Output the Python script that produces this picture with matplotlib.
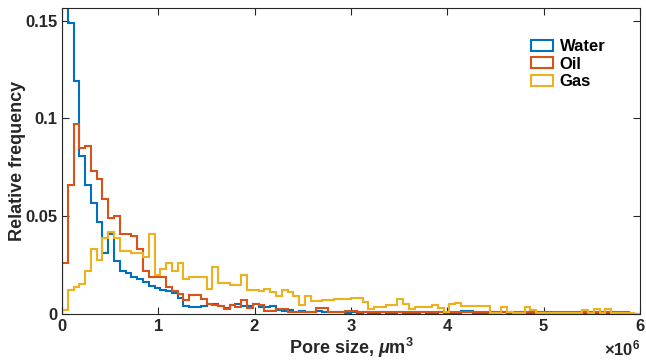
import numpy as np
import matplotlib.pyplot as plt
from matplotlib.ticker import ScalarFormatter, FixedLocator, FuncFormatter

plt.rcParams['font.family'] = 'Liberation Sans'
plt.rcParams['font.weight'] = 'bold'
plt.rcParams['mathtext.fontset'] = 'custom'
plt.rcParams['mathtext.rm'] = 'Liberation Sans:bold'
plt.rcParams['mathtext.it'] = 'Liberation Sans:italic'
plt.rcParams['mathtext.bf'] = 'Liberation Sans:bold'

# bins: 100 bins of 6e4 from 0 to 6e6
bin_edges = np.linspace(0, 6e6, 101)

water = [0.1565, 0.149, 0.119, 0.081, 0.066, 0.057, 0.047, 0.031, 0.041, 0.027,
         0.022, 0.021, 0.019, 0.018, 0.0165, 0.0145, 0.0135, 0.0125, 0.012, 0.0105,
         0.008, 0.004, 0.0035, 0.0035, 0.004, 0.005, 0.005, 0.004, 0.003, 0.0045,
         0.005, 0.004, 0.004, 0.005, 0.0035, 0.0035, 0.004, 0.002, 0.0015, 0.002,
         0.001, 0.0015, 0.0012, 0.001, 0.0015, 0.001, 0.0008, 0.001, 0.0008, 0.0005,
         0.0008, 0.0005, 0.0008, 0.0005, 0.0005, 0.0008, 0.0005, 0.0005, 0.0008, 0.0005,
         0.0005, 0.0005, 0.0008, 0.0005, 0.0005, 0.0008, 0.0005, 0.0005, 0.0005, 0.0017,
         0.0017, 0.0005, 0.0005, 0.0005, 0.0005, 0.0005, 0.001, 0.0005, 0.0, 0.0,
         0.0, 0.0, 0.0, 0.0, 0.0, 0.0, 0.0, 0.0, 0.0, 0.0,
         0.0, 0.0, 0.0, 0.0, 0.0, 0.0, 0.0, 0.0, 0.0, 0.0]

oil = [0.026, 0.066, 0.097, 0.085, 0.086, 0.073, 0.069, 0.059, 0.049, 0.050,
       0.041, 0.041, 0.040, 0.033, 0.022, 0.019, 0.019, 0.019, 0.014, 0.012,
       0.010, 0.007, 0.0095, 0.0095, 0.0078, 0.005, 0.0045, 0.0043, 0.0026, 0.0048,
       0.0038, 0.007, 0.003, 0.005, 0.0045, 0.0017, 0.0017, 0.0025, 0.0025, 0.001,
       0.001, 0.001, 0.001, 0.001, 0.003, 0.003, 0.001, 0.001, 0.001, 0.0015,
       0.0015, 0.0008, 0.0008, 0.001, 0.0008, 0.0008, 0.001, 0.0008, 0.0008, 0.001,
       0.0008, 0.0008, 0.0008, 0.001, 0.0008, 0.0008, 0.001, 0.0008, 0.0008, 0.0008,
       0.001, 0.0008, 0.0008, 0.0008, 0.0008, 0.0008, 0.0008, 0.0008, 0.0008, 0.0008,
       0.0008, 0.0008, 0.0008, 0.0008, 0.0008, 0.0008, 0.0008, 0.0008, 0.0008, 0.0008,
       0.0012, 0.0008, 0.0008, 0.0008, 0.0008, 0.0008, 0.0008, 0.0008, 0.0005, 0.0]

gas = [0.002, 0.0125, 0.014, 0.0155, 0.022, 0.033, 0.0275, 0.039, 0.042, 0.039,
       0.032, 0.032, 0.031, 0.031, 0.029, 0.041, 0.020, 0.023, 0.026, 0.022,
       0.026, 0.018, 0.019, 0.019, 0.019, 0.013, 0.024, 0.016, 0.016, 0.015,
       0.015, 0.0199, 0.0124, 0.0124, 0.012, 0.013, 0.011, 0.009, 0.0124, 0.011,
       0.0093, 0.0045, 0.009, 0.0068, 0.0068, 0.0072, 0.0072, 0.0078, 0.0078, 0.0078,
       0.0082, 0.0082, 0.0059, 0.0025, 0.0034, 0.0034, 0.0046, 0.0046, 0.0076, 0.005,
       0.0025, 0.0034, 0.0034, 0.0034, 0.0046, 0.003, 0.001, 0.005, 0.0055, 0.0042,
       0.0042, 0.0042, 0.0042, 0.0042, 0.0005, 0.0005, 0.0034, 0.001, 0.0005, 0.0005,
       0.0034, 0.002, 0.0005, 0.0005, 0.0005, 0.0005, 0.0005, 0.0005, 0.0005, 0.0005,
       0.002, 0.0005, 0.0025, 0.0005, 0.0025, 0.0005, 0.0005, 0.0005, 0.0005, 0.0]

labels = ['Water', 'Oil', 'Gas']
colors = ['#0072BD', '#D95319', '#EDB120']
axis_color = '#262626'

fig = plt.figure(figsize=(6.46, 3.63), dpi=100)
ax = fig.add_axes([0.096, 0.135, 0.895, 0.843])

centers = bin_edges[:-1] + 3e4
for vals, lab, c in zip([water, oil, gas], labels, colors):
    ax.hist(centers, bins=bin_edges, weights=vals, histtype='step',
            color=c, linewidth=1.5, label=lab)

ax.set_xlim(0, 6e6)
ax.set_ylim(0, max(water))

ax.xaxis.set_major_locator(FixedLocator(np.arange(0, 7e6, 1e6)))
fmt = ScalarFormatter(useMathText=True)
fmt.set_powerlimits((0, 0))
ax.xaxis.set_major_formatter(fmt)
ax.yaxis.set_major_locator(FixedLocator([0, 0.05, 0.1, 0.15]))
ax.yaxis.set_major_formatter(FuncFormatter(lambda v, p: '%g' % v))

ax.tick_params(direction='in', length=5, width=0.8, colors=axis_color,
               labelsize=12, top=True, right=True, pad=3)
for s in ax.spines.values():
    s.set_color(axis_color)
    s.set_linewidth(0.8)
ax.xaxis.get_offset_text().set_fontsize(12)
ax.xaxis.get_offset_text().set_color(axis_color)

ax.set_xlabel('Pore size, $\\mu$m$^3$', fontsize=13, fontweight='bold',
              color=axis_color, labelpad=1)
ax.set_ylabel('Relative frequency', fontsize=13, fontweight='bold',
              color=axis_color, labelpad=0)

leg = ax.legend(loc='upper left', bbox_to_anchor=(0.8, 0.92), frameon=False,
                fontsize=12, handlelength=1.3, handleheight=0.6,
                handletextpad=0.4, labelspacing=0.15, borderaxespad=0)

fig.savefig('out.png', dpi=100)
